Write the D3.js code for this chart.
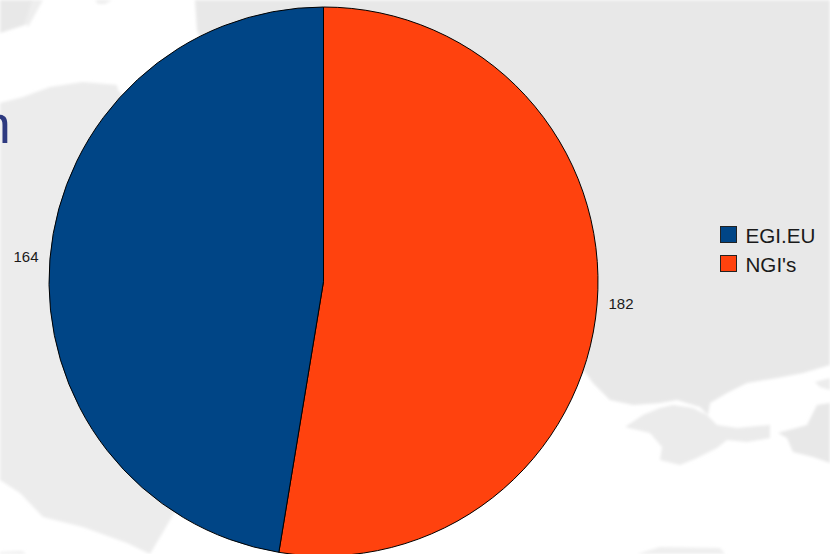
<!DOCTYPE html>
<html lang="en">
<head>
<meta charset="UTF-8" />
<title>EGI.EU and NGI's</title>
<script src="https://d3js.org/d3.v7.min.js"></script>
<style>
	html, body { margin: 0; padding: 0; background: #fff; }
	svg { display: block; }
	text { font-family: "Liberation Sans", Arial, sans-serif; fill: #1a1a1a; }
</style>
</head>
<body>
<svg width="830" height="554"></svg>
<script>
const width = 830;
const height = 554;

const categories = ["EGI.EU", "NGI's"];
const values = [164, 182];
const colors = ["#004586", "#ff420e"];

// faint map in the background of the slide
const land = [
	// north, running behind the pie to the right edge
	{ fill: "#e8e8e8", d: "M195,0 L197,30 L300,300 L585,372 L593,383 L600,390 L610,400 L633,405 L660,403 L677,400 L700,407 L708,415 L710,403 L727,393 L747,383 L777,378 L803,373 L830,365 L830,0 Z" },
	// Crimea
	{ fill: "#ebebeb", d: "M625,427 L643,415 L660,408 L673,405 L693,408 L707,415 L717,425 L737,428 L770,425 L770,438 L747,442 L727,440 L717,448 L697,458 L680,465 L660,460 L662,447 L650,433 Z" },
	// Caucasus side
	{ fill: "#e8e8e8", d: "M778,433 L807,425 L817,405 L830,403 L830,463 L813,457 L793,452 L787,438 Z" },
	{ fill: "#ececec", d: "M815,382 L830,378 L830,390 L820,387 Z" },
	{ fill: "#efefef", d: "M637,554 L660,547 L720,548 L725,554 Z" },
	// west, down the left edge to the bottom of the pie
	{ fill: "#ececec", d: "M0,103 L23,97 L50,87 L83,82 L117,85 L118,90 L300,300 L150,554 L127,543 L83,527 L43,517 L20,493 L0,480 Z" },
	// top left corner
	{ fill: "#e8e8e8", d: "M0,0 L33,0 L25,25 L0,33 Z" },
	{ fill: "#eeeeee", d: "M33,0 L43,0 L28,27 L25,22 Z" },
	{ fill: "#eeeeee", d: "M95,0 L112,0 L105,4 L98,4 Z" },
	{ fill: "#efefef", d: "M0,552 L22,551 L26,554 L0,554 Z" }
];

const svg = d3.select("svg");

svg.append("filter")
	.attr("id", "soft")
	.attr("x", "-5%").attr("y", "-5%")
	.attr("width", "110%").attr("height", "110%")
	.append("feGaussianBlur")
	.attr("stdDeviation", 1.4);

svg.append("g")
	.attr("filter", "url(#soft)")
	.selectAll("path")
	.data(land)
	.join("path")
	.attr("d", (d) => d.d)
	.attr("fill", (d) => d.fill);

// cut-off end of the slide title
svg.append("text")
	.attr("x", 10.7)
	.attr("y", 143)
	.attr("text-anchor", "end")
	.style("font-size", "54px")
	.style("fill", "#2e3a80")
	.text("n");

// Pie, NGI's starts at 12 o'clock
const pie = d3.pie().sort(null).value((d) => d.value);
const radius = 274.5;
const arc = d3.arc().innerRadius(0).outerRadius(radius);
const rows = categories.map((c, i) => ({ name: c, value: values[i], color: colors[i] }));
const slices = pie([rows[1], rows[0]]);

const g = svg.append("g").attr("transform", "translate(323.5,281.5)");

g.selectAll("path")
	.data(slices)
	.join("path")
	.attr("d", arc)
	.attr("fill", (d) => d.data.color)
	.attr("stroke", "#000")
	.attr("stroke-width", 1);

// value labels sit just outside the rim
const labelArc = d3.arc().innerRadius(radius + 24).outerRadius(radius + 24);
g.selectAll("text")
	.data(slices)
	.join("text")
	.attr("x", (d) => labelArc.centroid(d)[0])
	.attr("y", (d) => labelArc.centroid(d)[1])
	.attr("text-anchor", "middle")
	.attr("dy", (d) => (d.data.name === "NGI's" ? "0.2em" : ".35em"))
	.style("font-size", "15px")
	.text((d) => d.data.value);

// Legend
const legend = svg.append("g")
	.selectAll("g")
	.data(rows)
	.join("g")
	.attr("transform", (d, i) => `translate(720.5,${226.5 + i * 29})`);

legend.append("rect")
	.attr("width", 16)
	.attr("height", 16)
	.attr("fill", (d) => d.color)
	.attr("stroke", "#222")
	.attr("stroke-width", 1);

legend.append("text")
	.attr("x", 25)
	.attr("y", 16)
	.style("font-size", "20.6px")
	.text((d) => d.name);
</script>
</body>
</html>
